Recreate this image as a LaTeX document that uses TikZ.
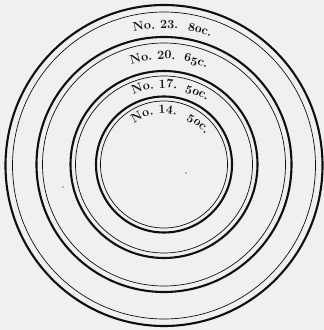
\documentclass[tikz,border=0pt]{standalone}
\usetikzlibrary{decorations.text}
\definecolor{paper}{RGB}{240,240,240}
\definecolor{ink}{RGB}{15,15,15}
\newcommand\lblfont{\fontencoding{TU}\fontfamily{lmr}\fontseries{bx}\fontshape{n}\fontsize{12.5}{14}\selectfont}
\newcommand\osfb{\fontencoding{OML}\fontfamily{cmm}\fontseries{b}\fontshape{it}\fontsize{12.5}{14}\selectfont}
\tikzset{
  thickring/.style={draw=ink, line width=2.1pt},
  thinring/.style={draw=ink, line width=0.7pt},
}
\newcommand\arctext[4]{%
  \path[decorate,decoration={text along path,text align=center,text color=ink,text={#4}}]
    ([shift={({#2+#3}:#1)}]c) arc[start angle={#2+#3}, end angle={#2-#3}, radius=#1];}
\begin{document}
\begin{tikzpicture}[x=1pt,y=1pt]
\fill[paper] (0,0) rectangle (324,330);
\useasboundingbox (0,0) rectangle (324,330);
\coordinate (c) at (164,165.5);
\coordinate (co) at (164,164.5);
% rings
\draw[thickring] (co) ellipse[x radius=158.5, y radius=160.5];
\draw[thinring] (co) ellipse[x radius=151.5, y radius=153.5];
\draw[thickring] (c) circle[radius=127.5];
\draw[thinring] (c) circle[radius=121.5];
\draw[thickring] (c) circle[radius=93.5];
\draw[thinring] (c) circle[radius=88.5];
\draw[thickring] (c) circle[radius=68];
\draw[thinring] (c) circle[radius=63.5];
% labels
\arctext{136}{93.5}{30}{|\lblfont|No. 23.}
\arctext{136}{75}{30}{|\osfb|80|\lblfont|c.}
\arctext{105.5}{96}{35}{|\lblfont|No. 20.}
\arctext{105.5}{72.8}{35}{|\osfb|65|\lblfont|c.}
\arctext{76.5}{97}{40}{|\lblfont|No. 17.}
\arctext{76.5}{65}{40}{|\osfb|50|\lblfont|c.}
\arctext{51}{101}{50}{|\lblfont|No. 14.}
\arctext{51}{50}{50}{|\osfb|50|\lblfont|c.}
% specks
\fill[ink] (63,143) circle[radius=0.6];
\fill[ink] (186,157) circle[radius=0.6];
\end{tikzpicture}
\end{document}
